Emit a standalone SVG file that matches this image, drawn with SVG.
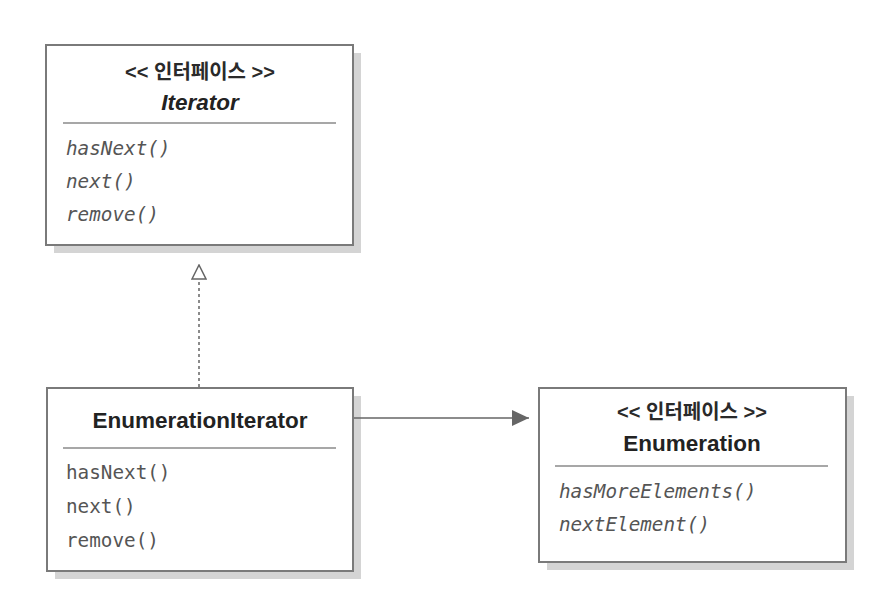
<svg xmlns="http://www.w3.org/2000/svg" width="890" height="610" viewBox="0 0 890 610">
<defs>
<style>
.shadow{fill:#d4d4d4;}
.box{fill:#fff;stroke:#7a7a7a;stroke-width:2;}
.div{stroke:#8a8a8a;stroke-width:1.5;}
.st{font-family:"Liberation Sans","Noto Sans CJK KR",sans-serif;font-weight:bold;font-size:20px;fill:#2a2a2a;text-anchor:middle;}
.ti{font-family:"Liberation Sans","Noto Sans CJK KR",sans-serif;font-weight:bold;font-size:22.5px;fill:#222;text-anchor:middle;}
.m{font-family:"DejaVu Sans Mono",monospace;font-size:19.3px;fill:#555;}
.mi{font-style:italic;}
.conn{fill:none;stroke:#666;stroke-width:1.5;}
</style>
<marker id="hollow" viewBox="0 0 16 16" refX="15" refY="8" markerWidth="16" markerHeight="16" markerUnits="userSpaceOnUse" orient="auto">
<path d="M1,1 L15,8 L1,15 Z" fill="#fff" stroke="#666" stroke-width="1.5"/>
</marker>
<marker id="filled" viewBox="0 0 18 18" refX="17" refY="9" markerWidth="18" markerHeight="18" markerUnits="userSpaceOnUse" orient="auto">
<path d="M0,1 L17,9 L0,17 Z" fill="#666"/>
</marker>
</defs>
<rect width="890" height="610" fill="#fff"/>
<g id="iterator">
<rect class="shadow" x="54" y="53" width="307" height="200"/>
<rect class="box" x="46" y="45" width="307" height="200"/>
<text class="st" x="200" y="79">&lt;&lt; 인터페이스 &gt;&gt;</text>
<text class="ti" x="200" y="110" font-style="italic">Iterator</text>
<line class="div" x1="63" y1="123" x2="336" y2="123"/>
<text class="m mi" x="66" y="155">hasNext()</text>
<text class="m mi" x="66" y="188">next()</text>
<text class="m mi" x="66" y="221">remove()</text>
</g>
<g id="enumerationIterator">
<rect class="shadow" x="55" y="396" width="306" height="183"/>
<rect class="box" x="47" y="388" width="306" height="183"/>
<text class="ti" x="200" y="428">EnumerationIterator</text>
<line class="div" x1="63" y1="448" x2="336" y2="448"/>
<text class="m" x="66" y="479">hasNext()</text>
<text class="m" x="66" y="513">next()</text>
<text class="m" x="66" y="547">remove()</text>
</g>
<g id="enumeration">
<rect class="shadow" x="547" y="396" width="307" height="174"/>
<rect class="box" x="539" y="388" width="307" height="174"/>
<text class="st" x="692" y="419">&lt;&lt; 인터페이스 &gt;&gt;</text>
<text class="ti" x="692" y="451">Enumeration</text>
<line class="div" x1="555" y1="466" x2="828" y2="466"/>
<text class="m mi" x="559" y="498">hasMoreElements()</text>
<text class="m mi" x="559" y="531">nextElement()</text>
</g>
<g id="connectors">
<path class="conn" d="M199,387 L199,265" stroke-dasharray="3,3" marker-end="url(#hollow)"/>
<path class="conn" d="M354,418 L529,418" marker-end="url(#filled)"/>
</g>
</svg>
